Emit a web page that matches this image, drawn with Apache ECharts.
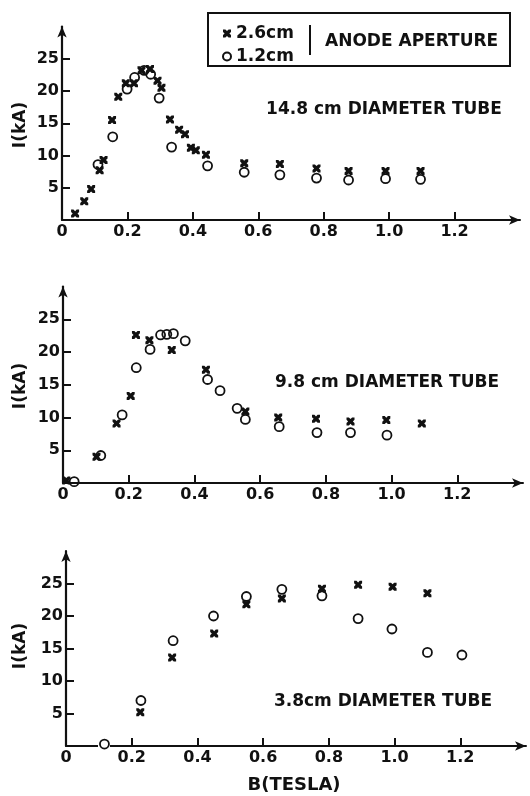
<!DOCTYPE html>
<html>
<head>
<meta charset="utf-8">
<script src="https://cdn.jsdelivr.net/npm/echarts@6/dist/echarts.min.js"></script>
<style>
  html, body { margin: 0; padding: 0; background: #fff; }
  #chart { width: 530px; height: 796px; }
</style>
</head>
<body>
<div id="chart"></div>
<script>
// Tick positions shared by the three panels
const bTicks = [0, 0.2, 0.4, 0.6, 0.8, 1.0, 1.2];
const iTicks = [5, 10, 15, 20, 25];

// Panel titles and axis texts
const tubeLabels = ['14.8 cm DIAMETER TUBE', '9.8 cm DIAMETER TUBE', '3.8cm DIAMETER TUBE'];
const apertureNames = ['2.6cm', '1.2cm'];
const apertureTitle = 'ANODE APERTURE';
const xTitle = 'B(TESLA)';
const yTitle = 'I(kA)';

// Peak current I (kA) vs magnetic field B (T): [B, I]
// 14.8 cm diameter tube
const tube148Ap26 = [
  [0.04, 1.0], [0.068, 2.9], [0.089, 4.8], [0.115, 7.7], [0.127, 9.3], [0.153, 15.5],
  [0.172, 19.1], [0.195, 21.2], [0.22, 21.2], [0.243, 23.2], [0.269, 23.4], [0.292, 21.6],
  [0.304, 20.5], [0.33, 15.6], [0.358, 14.0], [0.376, 13.3], [0.394, 11.2], [0.409, 10.8],
  [0.44, 10.1], [0.557, 8.8], [0.666, 8.7], [0.778, 8.0], [0.876, 7.6], [0.989, 7.6], [1.096, 7.6]
];
const tube148Ap12 = [
  [0.11, 8.6], [0.155, 12.9], [0.199, 20.3], [0.222, 22.1], [0.251, 23.2], [0.271, 22.6],
  [0.297, 18.9], [0.335, 11.3], [0.445, 8.4], [0.557, 7.4], [0.666, 7.0], [0.778, 6.5],
  [0.876, 6.2], [0.989, 6.4], [1.096, 6.3]
];
// 9.8 cm diameter tube
const tube98Ap26 = [
  [0.01, 0.4], [0.102, 4.0], [0.163, 9.1], [0.206, 13.3], [0.222, 22.6], [0.263, 21.8],
  [0.331, 20.3], [0.435, 17.3], [0.555, 10.9], [0.655, 10.0], [0.77, 9.8], [0.875, 9.4],
  [0.984, 9.6], [1.092, 9.1]
];
const tube98Ap12 = [
  [0.034, 0.2], [0.115, 4.2], [0.18, 10.4], [0.223, 17.6], [0.265, 20.4], [0.297, 22.6],
  [0.316, 22.7], [0.336, 22.8], [0.372, 21.7], [0.44, 15.8], [0.478, 14.1], [0.53, 11.4],
  [0.555, 9.7], [0.658, 8.6], [0.773, 7.7], [0.875, 7.7], [0.986, 7.3]
];
// 3.8 cm diameter tube
const tube38Ap26 = [
  [0.226, 5.2], [0.323, 13.6], [0.451, 17.3], [0.549, 21.8], [0.657, 22.7], [0.779, 24.2],
  [0.889, 24.8], [0.994, 24.5], [1.1, 23.5]
];
const tube38Ap12 = [
  [0.117, 0.3], [0.228, 7.0], [0.326, 16.2], [0.449, 20.0], [0.549, 23.0], [0.657, 24.1],
  [0.779, 23.1], [0.889, 19.6], [0.992, 18.0], [1.1, 14.4], [1.205, 14.0]
];

const FONT = 'DejaVu Sans';
const INK = '#111';
const crossPath = 'path://M0,0 L3,0 L5,2 L7,0 L10,0 L10,3 L8,5 L10,7 L10,10 L7,10 L5,8 L3,10 L0,10 L0,7 L2,5 L0,3 Z';

// Panel frames
const panels = [
  { left: 62, top: 26.5, width: 458, height: 193.5 },
  { left: 63, top: 286.5, width: 460, height: 196.5 },
  { left: 66, top: 551, width: 460, height: 195 }
];

function xAxisFor(i) {
  return {
    type: 'value', gridIndex: i, min: 0, max: 1.4,
    axisLine: { show: true, symbol: ['none', 'arrow'], symbolSize: [7, 11],
      lineStyle: { color: INK, width: 2 } },
    axisTick: { show: true, inside: true, length: 8, customValues: bTicks.slice(1),
      lineStyle: { color: INK, width: 2 } },
    axisLabel: { show: true, customValues: bTicks, margin: 4, color: INK,
      fontFamily: FONT, fontWeight: 'bold', fontSize: 16,
      formatter: v => (v === 0 ? '0' : v.toFixed(1)) },
    splitLine: { show: false }
  };
}
function yAxisFor(i) {
  return {
    type: 'value', gridIndex: i, min: 0, max: 30,
    axisLine: { show: true, symbol: ['none', 'arrow'], symbolSize: [7, 11],
      lineStyle: { color: INK, width: 2.2 } },
    axisTick: { show: true, inside: true, length: 8, customValues: iTicks,
      lineStyle: { color: INK, width: 2 } },
    axisLabel: { show: true, customValues: iTicks, margin: 3, color: INK,
      fontFamily: FONT, fontWeight: 'bold', fontSize: 16 },
    splitLine: { show: false }
  };
}

const dataSets = [
  [tube148Ap26, tube148Ap12],
  [tube98Ap26, tube98Ap12],
  [tube38Ap26, tube38Ap12]
];

const series = [];
dataSets.forEach((pair, i) => {
  series.push({
    type: 'scatter', name: apertureNames[1], xAxisIndex: i, yAxisIndex: i,
    data: pair[1], symbol: 'circle', symbolSize: 9, z: 3,
    itemStyle: { color: 'rgba(255,255,255,0)', borderColor: INK, borderWidth: 1.8, opacity: 1 },
    emphasis: { disabled: true }
  });
  series.push({
    type: 'scatter', name: apertureNames[0], xAxisIndex: i, yAxisIndex: i,
    data: pair[0], symbol: crossPath, symbolSize: 8, z: 4,
    itemStyle: { color: INK, opacity: 1 },
    emphasis: { disabled: true }
  });
});

const textStyle = (size) => ({ fill: INK, font: `bold ${size}px "${FONT}"` });

const graphics = [
  // legend frame and divider
  { type: 'rect', shape: { x: 208, y: 13, width: 302, height: 53 },
    style: { fill: 'none', stroke: INK, lineWidth: 2 } },
  { type: 'line', shape: { x1: 310, y1: 25, x2: 310, y2: 55 },
    style: { stroke: INK, lineWidth: 2 } },
  { type: 'text', x: 325, y: 42, style: Object.assign(textStyle(17),
      { text: apertureTitle, textAlign: 'left', textVerticalAlign: 'middle' }) },
  // break in the lowest B axis where the first open circle sits on it
  { type: 'rect', z: 2, shape: { x: 98, y: 742, width: 12, height: 7 },
    style: { fill: '#fff' } },
  // panel annotations
  { type: 'text', x: 384, y: 110, style: Object.assign(textStyle(17),
      { text: tubeLabels[0], textAlign: 'center', textVerticalAlign: 'middle' }) },
  { type: 'text', x: 387, y: 383, style: Object.assign(textStyle(17),
      { text: tubeLabels[1], textAlign: 'center', textVerticalAlign: 'middle' }) },
  { type: 'text', x: 383, y: 702, style: Object.assign(textStyle(17),
      { text: tubeLabels[2], textAlign: 'center', textVerticalAlign: 'middle' }) },
  { type: 'text', x: 294, y: 785, style: Object.assign(textStyle(18),
      { text: xTitle, textAlign: 'center', textVerticalAlign: 'middle' }) }
];
[125, 386, 646].forEach(cy => {
  graphics.push({ type: 'text', x: 21, y: cy, rotation: Math.PI / 2,
    style: Object.assign(textStyle(17), { text: yTitle, textAlign: 'center', textVerticalAlign: 'middle' }) });
});

const chart = echarts.init(document.getElementById('chart'), null, { renderer: 'canvas' });
chart.setOption({
  animation: false,
  backgroundColor: '#fff',
  grid: panels.map(p => Object.assign({ containLabel: false }, p)),
  xAxis: [0, 1, 2].map(xAxisFor),
  yAxis: [0, 1, 2].map(yAxisFor),
  legend: {
    data: apertureNames, orient: 'vertical', left: 222, top: 25,
    itemWidth: 8, itemHeight: 8, itemGap: 6, padding: 0, selectedMode: false,
    textStyle: { color: INK, fontFamily: FONT, fontWeight: 'bold', fontSize: 17, lineHeight: 14 }
  },
  series: series,
  graphic: graphics
});
</script>
</body>
</html>
